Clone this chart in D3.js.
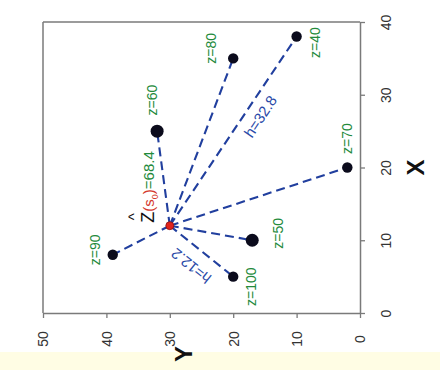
<!DOCTYPE html>
<html>
<head>
<meta charset="utf-8">
<script src="https://cdn.jsdelivr.net/npm/d3@7"></script>
<style>
  html, body { margin: 0; padding: 0; background: #fff; }
  svg { display: block; }
  text { font-family: "Liberation Sans", Arial, sans-serif; }
</style>
</head>
<body>
<svg id="chart" width="440" height="370"></svg>
<script>
// Sample locations (X, Y) with observed values z, plus the prediction site s0
const sampleX = [38, 35, 25, 20, 10, 8, 5];
const sampleY = [10, 20, 32, 2, 17, 39, 20];
const sampleZ = [40, 80, 60, 70, 50, 90, 100];
const siteX = 12;
const siteY = 30;
const predicted = 68.4;
const xTicks = [0, 10, 20, 30, 40];
const yTicks = [0, 10, 20, 30, 40, 50];
// distances annotated on two of the links
const distLabels = [32.8, 12.2];
const distTargets = [40, 100];

const svg = d3.select("#chart");

// light band along the bottom of the page
svg.append("rect").attr("x", 0).attr("y", 352).attr("width", 440).attr("height", 18)
  .attr("fill", "#fffde4");

// X runs vertically (bottom to top), Y runs horizontally (right to left)
const xs = d3.scaleLinear().domain([0, 40]).range([313, 22]);
const ys = d3.scaleLinear().domain([0, 50]).range([360, 43]);

const frameColor = "#7a7a7a";
// box on the left and top
svg.append("line").attr("x1", ys(50)).attr("x2", ys(50)).attr("y1", xs(0)).attr("y2", xs(40))
  .attr("stroke", frameColor).attr("stroke-width", 1.5);
svg.append("line").attr("x1", ys(50)).attr("x2", ys(0)).attr("y1", xs(40)).attr("y2", xs(40))
  .attr("stroke", frameColor).attr("stroke-width", 1.5);

// Y axis along the bottom
const yAxis = svg.append("g").attr("transform", `translate(0,${xs(0)})`)
  .call(d3.axisBottom(ys).tickValues(yTicks).tickSize(5).tickSizeOuter(0).tickFormat(d3.format("d")));
yAxis.selectAll("text")
  .attr("transform", "rotate(-90)")
  .attr("x", -26).attr("y", 0).attr("dy", "0.35em")
  .style("text-anchor", "middle");

// X axis along the right side
const xAxis = svg.append("g").attr("transform", `translate(${ys(0)},0)`)
  .call(d3.axisRight(xs).tickValues(xTicks).tickSize(5).tickSizeOuter(0).tickFormat(d3.format("d")));
xAxis.selectAll("text")
  .attr("transform", "rotate(-90)")
  .attr("x", 0).attr("y", 26).attr("dy", "0.35em")
  .style("text-anchor", "middle");

[yAxis, xAxis].forEach(a => {
  a.select(".domain").attr("stroke", frameColor).attr("stroke-width", 1.5);
  a.selectAll(".tick line").attr("stroke", frameColor).attr("stroke-width", 1.3);
  a.selectAll(".tick text").attr("fill", "#333").style("font-size", "14px");
});

// axis titles
svg.append("text").attr("transform", `translate(416,${xs(20)}) rotate(-90)`)
  .attr("text-anchor", "middle").attr("dy", "0.35em")
  .style("font-size", "24px").style("font-weight", "bold").attr("fill", "#111").text("X");
svg.append("text").attr("transform", `translate(184,${xs(0) + 41}) rotate(-90)`)
  .attr("text-anchor", "middle").attr("dy", "0.35em")
  .style("font-size", "24px").style("font-weight", "bold").attr("fill", "#111").text("Y");

const samples = sampleX.map((x, i) => ({ x, y: sampleY[i], z: sampleZ[i] }));
const cx = ys(siteY), cy = xs(siteX);

// dashed links from the prediction site to every sample
svg.append("g").selectAll("line").data(samples).join("line")
  .attr("x1", cx).attr("y1", cy)
  .attr("x2", d => ys(d.y)).attr("y2", d => xs(d.x))
  .attr("stroke", "#213f9e").attr("stroke-width", 2.1)
  .attr("stroke-dasharray", "9,5");

// sample points
const bigPoints = new Set([60, 50]);
svg.append("g").selectAll("circle").data(samples).join("circle")
  .attr("cx", d => ys(d.y)).attr("cy", d => xs(d.x))
  .attr("r", d => bigPoints.has(d.z) ? 6.5 : 5.2)
  .attr("fill", "#0b0b1c");

// prediction site
svg.append("circle").attr("cx", cx).attr("cy", cy).attr("r", 4)
  .attr("fill", "#e0231c").attr("stroke", "#8a1010").attr("stroke-width", 0.8);

// z labels, offset from each point in screen units
const zOffsets = {
  40: [18, 6], 80: [-22, -10], 60: [-5, -31], 70: [0, -29],
  50: [26, -7], 90: [-18, -5], 100: [18, 10]
};
svg.append("g").selectAll("text").data(samples).join("text")
  .attr("transform", d => {
    const o = zOffsets[d.z];
    return `translate(${ys(d.y) + o[0]},${xs(d.x) + o[1]}) rotate(-90)`;
  })
  .attr("text-anchor", "middle").attr("dy", "0.35em")
  .style("font-size", "14px").attr("fill", "#238a3b")
  .text(d => `z=${d.z}`);

// distance labels, set along their links
distLabels.forEach((h, i) => {
  const t = samples.find(s => s.z === distTargets[i]);
  const tx = ys(t.y), ty = xs(t.x);
  const ang = Math.atan2(ty - cy, tx - cx) * 180 / Math.PI;
  const frac = i === 0 ? 0.62 : 0.515;
  const mx = cx + (tx - cx) * frac, my = cy + (ty - cy) * frac;
  // normal pointing to the lower side of the link
  const len = Math.hypot(tx - cx, ty - cy);
  let nx = -(ty - cy) / len, ny = (tx - cx) / len;
  if (ny < 0) { nx = -nx; ny = -ny; }
  const off = i === 0 ? 14.5 : 18;
  const rot = i === 1 ? ang - 180 : ang;
  svg.append("text")
    .attr("transform", `translate(${mx + nx * off},${my + ny * off}) rotate(${rot})`)
    .attr("text-anchor", "middle").attr("dy", "0.35em")
    .style("font-size", "15px").attr("fill", "#2a4aa8")
    .text(`h=${h}`);
});

// predicted value label: Ẑ(s0)=68.4
const pl = svg.append("g").attr("transform", `translate(${cx - 21},${cy - 3}) rotate(-90)`);
const pt = pl.append("text").attr("x", 0).attr("y", 0).attr("dy", "0.35em").style("font-size", "15px");
pt.append("tspan").attr("fill", "#111").style("font-size", "18px").text("Z");
pt.append("tspan").attr("fill", "#d43a2e").text("(s");
pt.append("tspan").attr("fill", "#d43a2e").style("font-size", "9px").attr("dy", "4").text("0");
pt.append("tspan").attr("fill", "#d43a2e").attr("dy", "-4").text(")");
pt.append("tspan").attr("fill", "#238a3b").text(`=${predicted}`);
pl.append("text").attr("x", 6).attr("y", -10).attr("text-anchor", "middle")
  .style("font-size", "15px").attr("fill", "#111").text("^");
</script>
</body>
</html>
